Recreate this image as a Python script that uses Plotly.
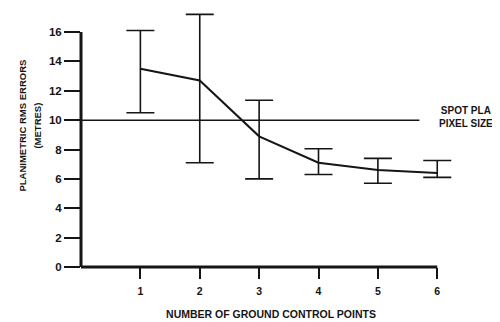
import plotly.graph_objects as go

gcp_counts = [1, 2, 3, 4, 5, 6]
rms_error = [13.5, 12.7, 8.9, 7.1, 6.6, 6.4]
err_upper = [16.1, 17.2, 11.35, 8.05, 7.4, 7.25]
err_lower = [10.5, 7.1, 6.0, 6.3, 5.7, 6.1]
pixel_size = 10
pixel_line_x = [0, 5.7]
y_ticks = [0, 2, 4, 6, 8, 10, 12, 14, 16]
x_axis_end = 6
y_axis_end = 16

plus = [u - m for u, m in zip(err_upper, rms_error)]
minus = [m - l for m, l in zip(rms_error, err_lower)]

ink = "#151515"
font = dict(family="Liberation Sans, Arial, sans-serif", color=ink, weight="bold")

fig = go.Figure()
fig.add_trace(go.Scatter(
    x=pixel_line_x, y=[pixel_size, pixel_size], mode="lines",
    line=dict(color=ink, width=1.5), hoverinfo="skip", showlegend=False))
fig.add_trace(go.Scatter(
    x=gcp_counts, y=rms_error, mode="lines",
    line=dict(color=ink, width=2),
    error_y=dict(type="data", symmetric=False, array=plus, arrayminus=minus,
                 color=ink, thickness=1.6, width=14),
    showlegend=False))

# axis lines stop at the last tick, while the plot area leaves room for the tall error bar
fig.add_shape(type="line", xref="x", yref="paper", x0=0, x1=x_axis_end, y0=0, y1=0,
              line=dict(color=ink, width=3))
fig.add_shape(type="line", xref="paper", yref="y", x0=0, x1=0, y0=-0.15, y1=y_axis_end,
              line=dict(color=ink, width=3))

# page body adds an 8px offset, so the figure is sized to fit the 500x322 window
fig.update_layout(
    width=492, height=314,
    margin=dict(l=72.6, r=39.2, t=2, b=55.3),
    paper_bgcolor="white", plot_bgcolor="white",
    font=dict(size=11, **font),
    xaxis=dict(range=[0, 6.4], tickvals=gcp_counts, ticktext=[str(v) for v in gcp_counts],
               showgrid=False, zeroline=False, showline=False,
               ticks="outside", ticklen=11, tickwidth=2, tickcolor=ink,
               ticklabelstandoff=3,
               tickfont=dict(size=10.5, **font),
               title=dict(text="NUMBER OF GROUND CONTROL POINTS", font=dict(size=10.5, **font),
                          standoff=15)),
    yaxis=dict(range=[0, 17.5], tickvals=y_ticks,
               showgrid=False, zeroline=False, showline=False,
               ticks="outside", ticklen=16, tickwidth=1.6, tickcolor=ink,
               tickfont=dict(size=11.5, **font)),
)

fig.add_annotation(xref="paper", yref="paper", x=-0.154, y=0.552, text="PLANIMETRIC RMS ERRORS",
                   showarrow=False, textangle=-90, xanchor="center", yanchor="middle",
                   font=dict(size=9.5, **font))
fig.add_annotation(xref="paper", yref="paper", x=-0.1147, y=0.552, text="(METRES)",
                   showarrow=False, textangle=-90, xanchor="center", yanchor="middle",
                   font=dict(size=9.5, **font))
fig.add_annotation(xref="paper", yref="y", x=1.0137, y=pixel_size, yshift=3,
                   text="SPOT PLA<br>PIXEL SIZE", showarrow=False, align="center",
                   xanchor="center", yanchor="middle", font=dict(size=10, **font))

fig.write_html("out.html")
